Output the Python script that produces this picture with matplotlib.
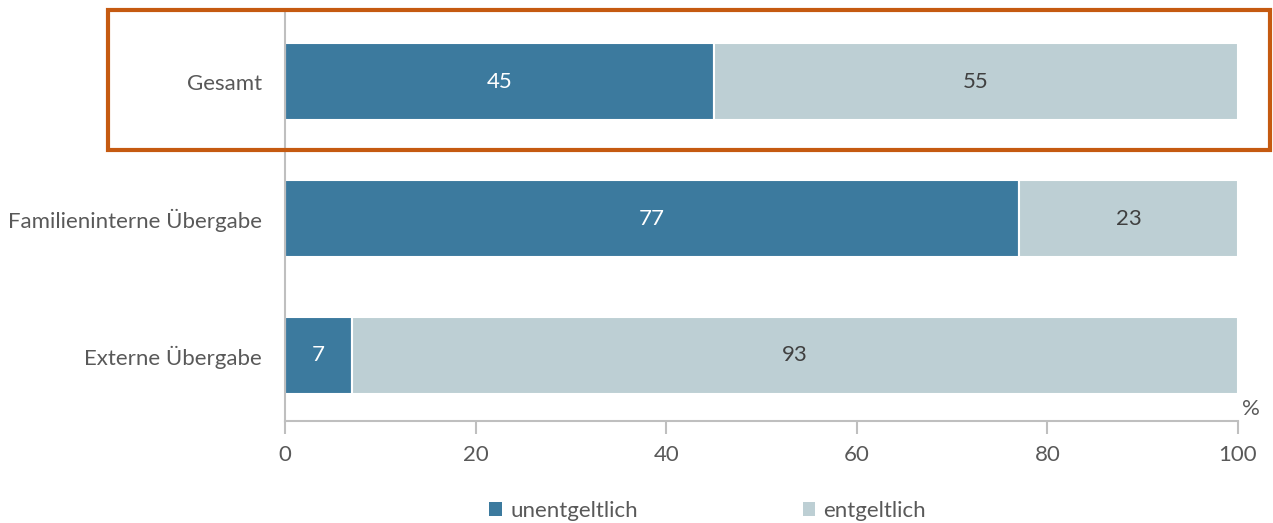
import matplotlib
matplotlib.use("Agg")
import matplotlib.pyplot as plt
from matplotlib.patches import Rectangle, Patch

categories = ["Gesamt", "Familieninterne Übergabe", "Externe Übergabe"]
unentgeltlich = [45, 77, 7]
entgeltlich = [55, 23, 93]
series_names = ["unentgeltlich", "entgeltlich"]
x_ticks = [0, 20, 40, 60, 80, 100]

dark = "#3C7A9E"
light = "#BDCFD4"
grey_txt = "#595959"
axis_col = "#BFBFBF"
fs = 16

plt.rcParams["font.family"] = ["Lato", "DejaVu Sans"]
plt.rcParams["font.weight"] = "normal"

fig = plt.figure(figsize=(12.73, 5.23), dpi=100)
ax = fig.add_axes([285 / 1273, 1 - 421 / 523, (1238 - 285) / 1273, (421 - 12) / 523])

y = list(range(len(categories)))
h = 0.56
ax.barh(y, unentgeltlich, height=h, color=dark, edgecolor="white", linewidth=1.5)
ax.barh(y, entgeltlich, left=unentgeltlich, height=h, color=light, edgecolor="white", linewidth=1.5)

for i, (a, b) in enumerate(zip(unentgeltlich, entgeltlich)):
    ax.text(a / 2, i, str(a), ha="center", va="center", color="white", fontsize=fs)
    ax.text(a + b / 2, i, str(b), ha="center", va="center", color="#404040", fontsize=fs)

ax.set_xlim(0, 100)
ax.set_ylim(2.48, -0.51)
ax.set_yticks(y)
ax.set_yticklabels(categories, fontsize=fs, color=grey_txt)
ax.tick_params(axis="y", length=0, pad=16.5)
ax.set_xticks(x_ticks)
ax.set_xticklabels([str(t) for t in x_ticks], fontsize=fs, color=grey_txt)
ax.tick_params(axis="x", length=9, width=1.5, color=axis_col, pad=8)

for s in ["top", "right"]:
    ax.spines[s].set_visible(False)
for s in ["left", "bottom"]:
    ax.spines[s].set_color(axis_col)
    ax.spines[s].set_linewidth(1.5)

ax.text(1.004, 0.005, "%", transform=ax.transAxes, ha="left", va="bottom",
        fontsize=fs, color=grey_txt)

handles = [Patch(facecolor=dark), Patch(facecolor=light)]
fig.legend(handles, series_names, loc="center", bbox_to_anchor=(0.556, 1 - 511 / 523),
           ncol=2, frameon=False, fontsize=fs, handlelength=0.55, handleheight=0.55,
           handletextpad=0.4, columnspacing=7.4, labelcolor=grey_txt)

fig.patches.append(Rectangle((108 / 1273, 1 - 150 / 523), (1270 - 108) / 1273, 140 / 523,
                             transform=fig.transFigure, fill=False,
                             edgecolor="#C55A11", linewidth=3))

fig.savefig("out.png", dpi=100)
